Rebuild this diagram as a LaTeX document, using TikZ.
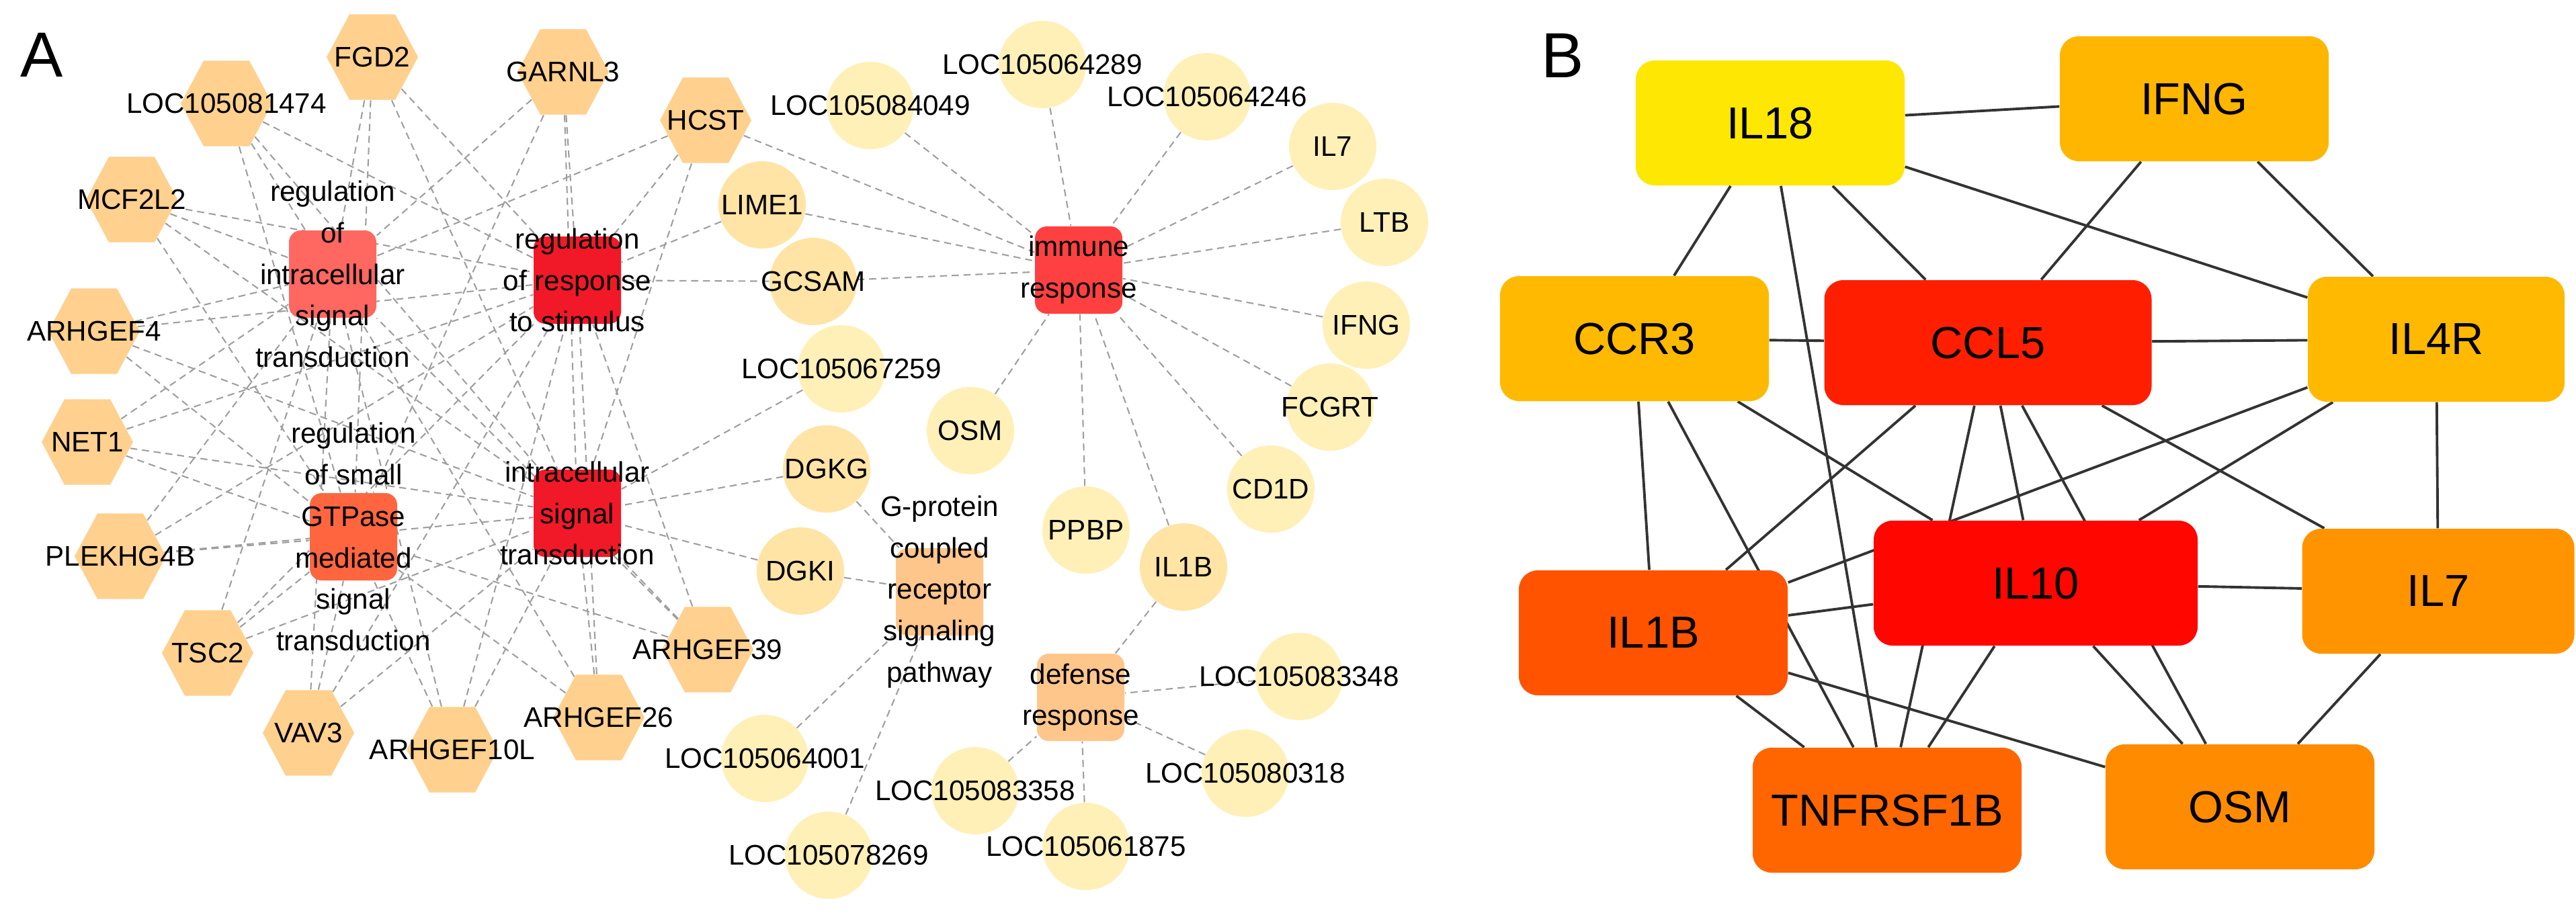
\documentclass[tikz,border=0pt]{standalone}
\usepackage{fontspec}
\setmainfont{Liberation Sans}
\usetikzlibrary{shapes.geometric, backgrounds, calc, positioning}
\definecolor{hexcol}{HTML}{FFD08E}
\definecolor{circol}{HTML}{FFF0B8}
\definecolor{circdark}{HTML}{FFE4A6}
\tikzstyle{hexnode} = [regular polygon, regular polygon sides=6, minimum size=1.36cm,
	inner sep=0pt, fill=hexcol, yscale=1.08]
\tikzstyle{circnode} = [circle, minimum size=1.3cm, inner sep=0pt, fill=circol]
\tikzstyle{genetext} = [inner sep=0pt, font=\fontsize{12}{14}\selectfont]
\tikzstyle{term} = [rectangle, rounded corners=5pt, minimum size=1.3cm, inner sep=0pt]
\tikzstyle{termtext} = [align=center, font=\fontsize{12}{17.6}\selectfont]
\tikzstyle{hub} = [rectangle, rounded corners=8pt, minimum width=4cm,
	minimum height=1.86cm, font=\fontsize{19}{22}\selectfont]
\tikzstyle{link} = [densely dashed, gray!75, line width=0.6pt]
\tikzstyle{ppi} = [black!80, line width=1.1pt]
% shape without text, then the name on top of it
\newcommand{\gene}[4][circnode]{%
	\node (#2) [#1] at (#3) {};
	\node [genetext] at (#2) {#4};}

\begin{document}
\begin{tikzpicture}
	\useasboundingbox (0,0) rectangle (38.33,-13.67);

	% panel letters
	\node (A) [font=\fontsize{27}{30}\selectfont] at (0.62,-0.82) {A};
	\node (B) [font=\fontsize{27}{30}\selectfont] at (23.25,-0.83) {B};

	% set up term nodes
	\node (ri) [term, fill=red!60!white!95!orange] at (4.95,-4.08) {};
	\node (rs) [term, fill=red!75!purple!90] at (8.59,-4.17) {};
	\node (gt) [term, fill=red!60!orange!75] at (5.26,-7.99) {};
	\node (is) [term, fill=red!75!purple!90] at (8.59,-7.64) {};
	\node (im) [term, fill=red!75!white] at (16.05,-4.02) {};
	\node (gp) [term, fill=orange!45] at (13.98,-8.81) {};
	\node (dr) [term, fill=orange!45] at (16.08,-10.38) {};

	% set up gene nodes
	\gene[hexnode]{fgd2}{5.54,-0.85}{FGD2}
	\gene[hexnode]{garnl3}{8.38,-1.07}{GARNL3}
	\gene[hexnode]{loc81474}{3.37,-1.54}{LOC105081474}
	\gene[hexnode]{hcst}{10.50,-1.79}{HCST}
	\gene[hexnode]{mcf2l2}{1.96,-2.97}{MCF2L2}
	\gene[hexnode]{arhgef4}{1.40,-4.93}{ARHGEF4}
	\gene[hexnode]{net1}{1.30,-6.58}{NET1}
	\gene[hexnode]{plekhg4b}{1.79,-8.28}{PLEKHG4B}
	\gene[hexnode]{tsc2}{3.09,-9.72}{TSC2}
	\gene[hexnode]{vav3}{4.59,-10.91}{VAV3}
	\gene[hexnode]{arhgef10l}{6.73,-11.16}{ARHGEF10L}
	\gene[hexnode]{arhgef26}{8.91,-10.68}{ARHGEF26}
	\gene[hexnode]{arhgef39}{10.53,-9.67}{ARHGEF39}

	\gene{loc84049}{12.95,-1.57}{LOC105084049}
	\gene{loc64289}{15.51,-0.96}{LOC105064289}
	\gene{loc64246}{17.96,-1.44}{LOC105064246}
	\gene{il7}{19.83,-2.18}{IL7}
	\gene{ltb}{20.60,-3.31}{LTB}
	\gene{ifng}{20.33,-4.84}{IFNG}
	\gene{fcgrt}{19.79,-6.06}{FCGRT}
	\gene{cd1d}{18.91,-7.28}{CD1D}
	\gene[circnode, fill=circdark]{il1b}{17.61,-8.44}{IL1B}
	\gene{ppbp}{16.16,-7.89}{PPBP}
	\gene{osm}{14.44,-6.41}{OSM}
	\gene[circnode, fill=circdark]{lime1}{11.34,-3.05}{LIME1}
	\gene[circnode, fill=circdark]{gcsam}{12.10,-4.19}{GCSAM}
	\gene{loc67259}{12.52,-5.49}{LOC105067259}
	\gene[circnode, fill=circdark]{dgkg}{12.30,-6.98}{DGKG}
	\gene[circnode, fill=circdark]{dgki}{11.91,-8.50}{DGKI}
	\gene{loc83348}{19.33,-10.07}{LOC105083348}
	\gene{loc80318}{18.53,-11.51}{LOC105080318}
	\gene{loc61875}{16.16,-12.60}{LOC105061875}
	\gene{loc83358}{14.51,-11.77}{LOC105083358}
	\gene{loc78269}{12.33,-12.73}{LOC105078269}
	\gene{loc64001}{11.38,-11.29}{LOC105064001}

	% term labels on top
	\node [termtext] at (ri) {regulation\\of\\intracellular\\signal\\transduction};
	\node [termtext] at (rs) {regulation\\of response\\to stimulus};
	\node [termtext] at (gt) {regulation\\of small\\GTPase\\mediated\\signal\\transduction};
	\node [termtext] at (is) {intracellular\\signal\\transduction};
	\node [termtext] at (im) {immune\\response};
	\node [termtext] at (gp) {G-protein\\coupled\\receptor\\signaling\\pathway};
	\node [termtext] at (dr) {defense\\response};

	% set up PPI nodes
	\node (bil18) [hub, fill=yellow!90!orange] at (26.34,-1.83) {IL18};
	\node (bifng) [hub, fill=orange!50!yellow!95!red] at (32.65,-1.47) {IFNG};
	\node (bccr3) [hub, fill=orange!55!yellow] at (24.32,-5.04) {CCR3};
	\node (bccl5) [hub, minimum width=4.87cm, fill=red!85!orange!95!yellow] at (29.58,-5.10) {CCL5};
	\node (bil4r) [hub, minimum width=3.82cm, fill=orange!55!yellow] at (36.25,-5.05) {IL4R};
	\node (bil10) [hub, minimum width=4.82cm, fill=red!95!orange] at (30.29,-8.68) {IL10};
	\node (bil7) [hub, minimum width=4.05cm, fill=orange!85!yellow] at (36.28,-8.80) {IL7};
	\node (bil1b) [hub, fill=red!35!orange] at (24.60,-9.42) {IL1B};
	\node (btnfrsf1b) [hub, fill=orange!80!red] at (28.08,-12.06) {TNFRSF1B};
	\node (bosm) [hub, fill=orange!90!yellow] at (33.33,-12.01) {OSM};

	% connectors
	\begin{scope}[on background layer]
		\foreach \g in {fgd2, garnl3, loc81474, mcf2l2, arhgef4, net1, plekhg4b, tsc2, vav3, arhgef10l, arhgef26, arhgef39}
			\foreach \t in {ri, rs, gt, is}
				\draw[link] (\g) -- (\t);
		\foreach \g in {hcst}
			\foreach \t in {ri, rs, is, im}
				\draw[link] (\g) -- (\t);
		\foreach \g in {lime1, gcsam}
			\foreach \t in {rs, im}
				\draw[link] (\g) -- (\t);
		\foreach \g in {loc67259, dgkg, dgki}
			\draw[link] (\g) -- (is);
		\foreach \g in {loc84049, loc64289, loc64246, il7, ltb, ifng, fcgrt, cd1d, il1b, ppbp, osm}
			\draw[link] (\g) -- (im);
		\foreach \g in {dgkg, dgki, loc64001, loc78269}
			\draw[link] (\g) -- (gp);
		\foreach \g in {il1b, loc83348, loc80318, loc61875, loc83358}
			\draw[link] (\g) -- (dr);

		\foreach \a/\b in {bil18/bifng, bil18/bccr3, bil18/bccl5, bil18/bil4r, bil18/btnfrsf1b,
			bifng/bccl5, bifng/bil4r, bccr3/bccl5, bccr3/bil1b, bccr3/bil10, bccr3/btnfrsf1b,
			bccl5/bil4r, bccl5/bil1b, bccl5/bil10, bccl5/btnfrsf1b, bccl5/bosm, bccl5/bil7,
			bil4r/bil1b, bil4r/bil10, bil4r/bil7, bil10/bil1b, bil10/bil7, bil10/btnfrsf1b,
			bil10/bosm, bil1b/btnfrsf1b, bil1b/bosm, bil7/bosm}
			\draw[ppi] (\a) -- (\b);
	\end{scope}
\end{tikzpicture}
\end{document}
